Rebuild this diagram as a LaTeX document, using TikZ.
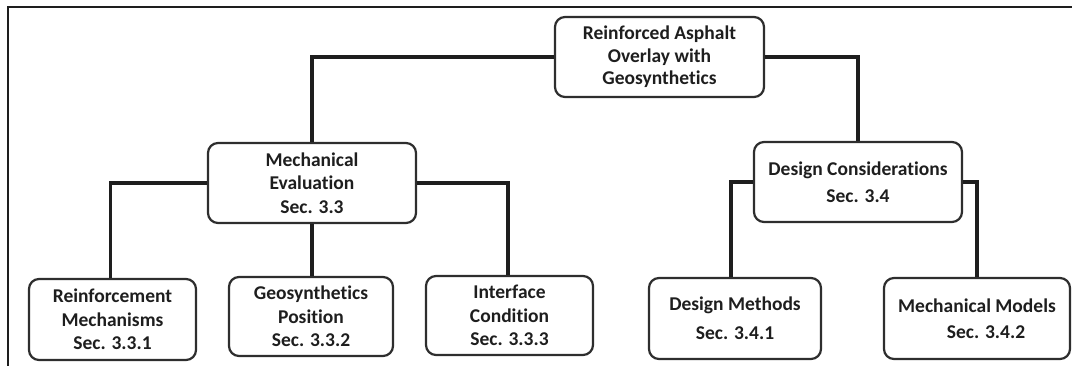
\documentclass[tikz,border=0pt]{standalone}
\usepackage{fontspec}
\setmainfont{Carlito}[Ligatures=CommonOff]
\definecolor{ink}{HTML}{1E1E1E}
\definecolor{edge}{HTML}{2E2E2E}
\begin{document}
\begin{tikzpicture}[x=1pt,y=-1pt,
  box/.style={draw=edge, line width=2.2pt, rounded corners=10pt, fill=white,
    inner sep=0pt, align=center, text=ink,
    font=\bfseries\fontsize{19.5}{23.5}\selectfont},
  link/.style={draw=ink, line width=3.2pt},
  frame/.style={draw=ink, line width=2.8pt}]
\useasboundingbox (0,0) rectangle (1072,366);
% frame lines
\coordinate (ftl) at (8,7);
\coordinate (ftr) at (1072,7);
\coordinate (fbl) at (8,366);
\draw[frame] (fbl) -- (ftl) -- (ftr);
% connectors (drawn first, boxes cover the ends)
\node[box, minimum width=209pt, minimum height=80pt,
  font=\bfseries\fontsize{19.5}{22.5}\selectfont] (root) at (659.5,57)
  {Reinforced Asphalt\\Overlay with\\Geosynthetics};
\node[box, minimum width=208pt, minimum height=80pt] (mech) at (312,183)
  {Mechanical\\Evaluation\\Sec. 3.3};
\node[box, minimum width=208pt, minimum height=80pt] (design) at (858,182)
  {Design Considerations\\[3pt]Sec. 3.4};
\node[box, minimum width=167pt, minimum height=81pt] (reinf) at (112.5,319.5)
  {Reinforcement\\Mechanisms\\Sec. 3.3.1};
\node[box, minimum width=164pt, minimum height=79pt] (geo) at (311,316.5)
  {Geosynthetics\\Position\\Sec. 3.3.2};
\node[box, minimum width=167pt, minimum height=79pt] (iface) at (509.5,315.5)
  {Interface\\Condition\\Sec. 3.3.3};
\node[box, minimum width=172pt, minimum height=81pt] (dmeth) at (735,318.5)
  {\raisebox{-6pt}{\shortstack{Design Methods\\[10pt]Sec. 3.4.1}}};
\node[box, minimum width=186pt, minimum height=81pt] (mmod) at (977,318.5)
  {\raisebox{-6pt}{\shortstack{Mechanical Models\\[10pt]\hspace*{18pt}Sec. 3.4.2}}};
% connectors
\draw[link] (root.west) -| (mech.north);
\draw[link] (root.east) -| (design.north);
\draw[link] (mech.west) -| ([xshift=-2pt]reinf.north);
\draw[link] (mech.south) -- (mech.south |- geo.north);
\draw[link] (mech.east) -| ([xshift=-1.5pt]iface.north);
\draw[link] (design.west) -| ([xshift=-4pt]dmeth.north);
\draw[link] (design.east) -| (mmod.north);
\end{tikzpicture}
\end{document}
